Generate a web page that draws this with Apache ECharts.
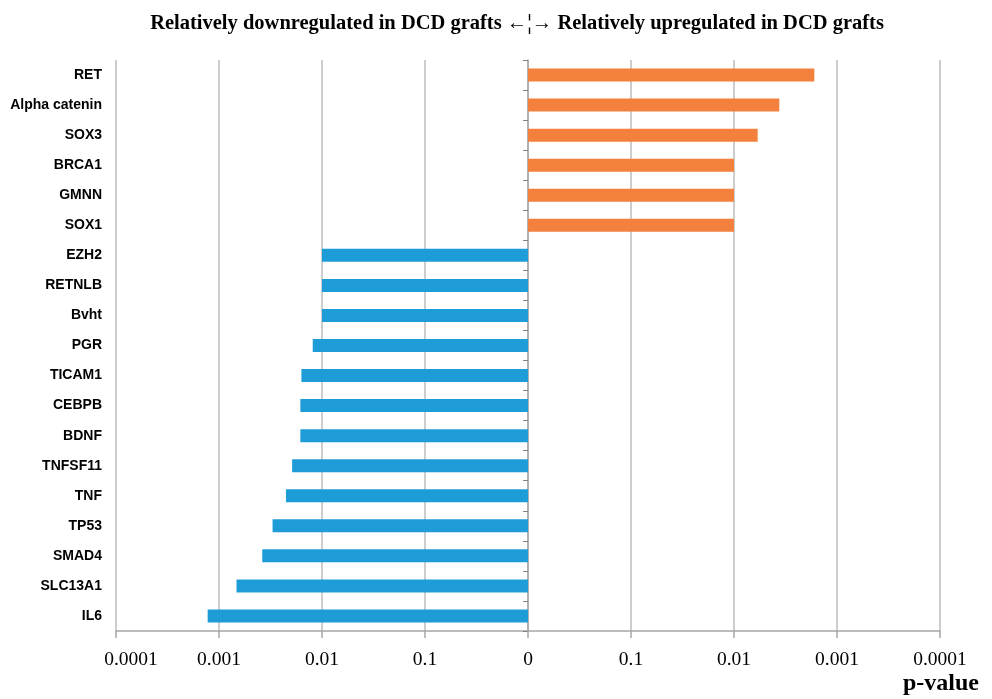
<!DOCTYPE html>
<html>
<head>
<meta charset="utf-8">
<script src="https://cdn.jsdelivr.net/npm/echarts@6/dist/echarts.min.js"></script>
<style>html,body{margin:0;padding:0;background:#fff}#c{width:992px;height:699px}</style>
</head>
<body>
<div id="c"></div>
<script>
// Gene names, top to bottom
const genes = ["RET","Alpha catenin","SOX3","BRCA1","GMNN","SOX1","EZH2","RETNLB","Bvht","PGR","TICAM1","CEBPB","BDNF","TNFSF11","TNF","TP53","SMAD4","SLC13A1","IL6"];
// Signed -log10(p): positive = upregulated, negative = downregulated
const signedLogP = [2.78,2.44,2.23,2.0,2.0,2.0,-2.0,-2.0,-2.0,-2.09,-2.2,-2.21,-2.21,-2.29,-2.35,-2.48,-2.58,-2.83,-3.11];
// Axis tick labels from -4 to 4
const tickLabels = ["0.0001","0.001","0.01","0.1","0","0.1","0.01","0.001","0.0001"];
const titleText = "Relatively downregulated in DCD grafts \u2190\u00a6\u2192 Relatively upregulated in DCD grafts";
const upColor = "#F3803C", downColor = "#1E9CD8";

const chart = echarts.init(document.getElementById('c'));
chart.setOption({
  animation: false,
  title: {
    text: titleText, left: 512, top: 8, textAlign: 'center',
    textStyle: {fontFamily: 'Liberation Serif', fontWeight: 'bold', fontSize: 20.5, color: '#000'}
  },
  graphic: [{
    type: 'text', right: 13, top: 672,
    style: {text: 'p-value', fontFamily: 'Liberation Serif', fontWeight: 'bold', fontSize: 24, fill: '#000'}
  }],
  grid: {left: 116, right: 52, top: 60, bottom: 68},
  xAxis: {
    type: 'value', min: -4, max: 4, interval: 1,
    axisLine: {show: true, lineStyle: {color: '#A6A6A6', width: 1.5}},
    axisTick: {show: true, length: 7, lineStyle: {color: '#A6A6A6', width: 1.5}},
    splitLine: {show: true, lineStyle: {color: '#BDBDBD', width: 1.5}},
    axisLabel: {
      margin: 19, fontFamily: 'Liberation Serif', fontSize: 19.5, color: '#000',
      formatter: v => {
        const i = Math.round(v) + 4;
        return i === 0 ? '{first|' + tickLabels[i] + '}' : tickLabels[i];
      },
      rich: {first: {fontFamily: 'Liberation Serif', fontSize: 19.5, color: '#000', padding: [0, 0, 0, 30]}}
    }
  },
  yAxis: [{
    type: 'category', data: genes, inverse: true,
    axisLine: {show: false}, axisTick: {show: false},
    axisLabel: {margin: 14, fontFamily: 'Liberation Sans', fontWeight: 'bold', fontSize: 14, color: '#000'}
  }, {
    type: 'category', data: genes, inverse: true, position: 'left', offset: -412,
    axisLine: {show: true, lineStyle: {color: '#A6A6A6', width: 1.5}},
    axisTick: {show: true, length: 5, lineStyle: {color: '#808080', width: 1}},
    axisLabel: {show: false}
  }],
  series: [{
    type: 'bar', yAxisIndex: 0, barWidth: 13,
    data: signedLogP.map(v => ({value: v, itemStyle: {color: v >= 0 ? upColor : downColor}}))
  }]
});
</script>
</body>
</html>
